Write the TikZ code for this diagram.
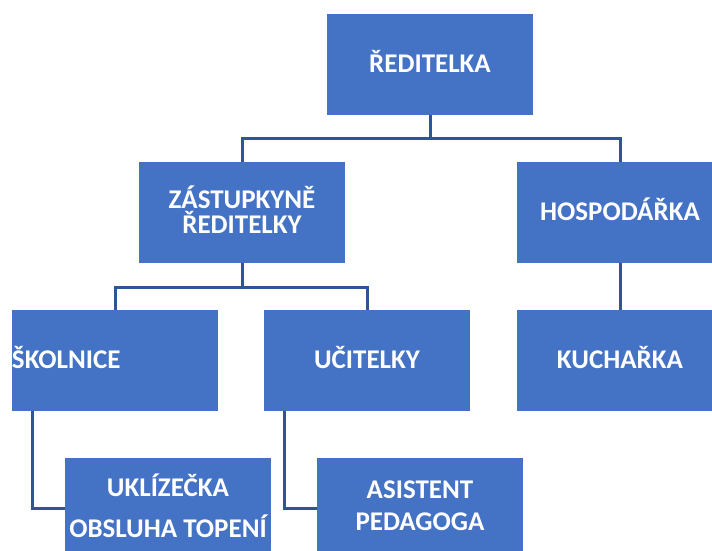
\documentclass[tikz,border=0pt]{standalone}
\usepackage{fontspec}
\setmainfont{Carlito}
\definecolor{boxblue}{RGB}{68,114,196}
\definecolor{lineblue}{RGB}{47,85,151}
\begin{document}
\lineskiplimit=-100pt
\begin{tikzpicture}[x=1pt,y=-1pt,
  orgbox/.style={fill=boxblue, draw=none, minimum width=206pt, minimum height=101pt,
    inner sep=0pt},
  lbl/.style={text=white, inner sep=0pt, align=center, yshift=3pt,
    font=\bfseries\fontsize{27}{25}\selectfont},
  conn/.style={draw=lineblue, line width=3pt}]
\useasboundingbox (0,0) rectangle (712,551);
\clip (0,0) rectangle (712,551);
\node[orgbox, label={[lbl]center:ŘEDITELKA}] (r) at (430,64.5) {};
\node[orgbox, label={[lbl]center:{ZÁSTUPKYNĚ\\ŘEDITELKY}}] (z) at (242,212.5) {};
\node[orgbox, label={[lbl]center:HOSPODÁŘKA}] (h) at (620,212.5) {};
\node[orgbox, label={[lbl, anchor=west]west:ŠKOLNICE}] (s) at (115,360.5) {};
\node[orgbox, label={[lbl]center:UČITELKY}] (u) at (367,360.5) {};
\node[orgbox, label={[lbl, font=\bfseries\fontsize{27}{41}\selectfont]center:{UKLÍZEČKA\\OBSLUHA TOPENÍ}}] (ukl) at (168,508.5) {};
\node[orgbox, label={[lbl, font=\bfseries\fontsize{27}{32}\selectfont]center:{ASISTENT\\PEDAGOGA}}] (a) at (420,508.5) {};
\node[orgbox, label={[lbl]center:KUCHAŘKA}] (k) at (620,360.5) {};
\draw[conn] (r.south) -- ++(0,23) coordinate (rj);
\draw[conn] (z.north) |- (rj) -| (h.north);
\draw[conn] (z.south) -- ++(0,24) coordinate (zj);
\draw[conn] (s.north) |- (zj) -| (u.north);
\draw[conn] (h) -- (k);
\draw[conn] ([xshift=-83pt]s.south) |- (ukl.west);
\draw[conn] ([xshift=-83pt]u.south) |- (a.west);
\end{tikzpicture}
\end{document}
